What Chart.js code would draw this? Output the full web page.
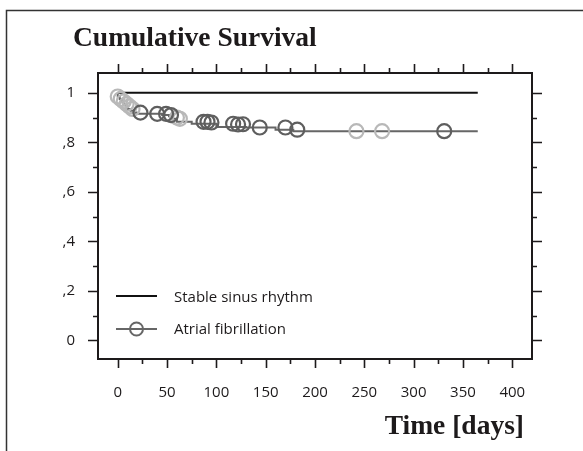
<!DOCTYPE html>
<html>
<head>
<meta charset="utf-8">
<script src="https://cdn.jsdelivr.net/npm/chart.js@4.4.1/dist/chart.umd.min.js"></script>
<style>
  html, body { margin: 0; padding: 0; background: #fff; }
  #wrap { width: 583px; height: 451px; }
</style>
</head>
<body>
<div id="wrap"><canvas id="chart" width="583" height="451"></canvas></div>
<script>
// Kaplan-Meier style survival plot

// --- Data ---
const sinusTimes = [0, 365];
const sinusSurvival = [1, 1];

// atrial fibrillation step curve
const afTimes = [0, 2, 4, 6, 8, 10, 13, 16, 19, 45, 52, 56, 60, 75, 100, 130, 160, 178, 235, 365];
const afSurvival = [1, 0.985, 0.975, 0.965, 0.955, 0.945, 0.935, 0.928, 0.92, 0.915, 0.91, 0.905, 0.895, 0.883, 0.875, 0.862, 0.86, 0.851, 0.845, 0.845];

// censor marks (dark)
const censorDarkTimes = [23, 40, 49, 54, 87, 91, 95, 117, 122, 127, 144, 170, 182, 331];
const censorDarkValues = [0.92, 0.915, 0.915, 0.91, 0.883, 0.883, 0.88, 0.875, 0.872, 0.873, 0.86, 0.86, 0.851, 0.845];

// censor marks (light)
const censorLightTimes = [0, 3, 6, 9, 12, 15, 60, 63, 242, 268];
const censorLightValues = [0.985, 0.975, 0.965, 0.955, 0.945, 0.935, 0.9, 0.895, 0.845, 0.845];

const xMajorTicks = [0, 50, 100, 150, 200, 250, 300, 350, 400];
const xMinorTicks = [25, 75, 125, 175, 225, 275, 325, 375];
const yMajorTicks = [0, 0.2, 0.4, 0.6, 0.8, 1];
const yMinorTicks = [0.1, 0.3, 0.5, 0.7, 0.9];
const yTickLabels = ['0', ',2', ',4', ',6', ',8', '1'];

const titleText = 'Cumulative Survival';
const xTitleText = 'Time [days]';
const legendLabels = ['Stable sinus rhythm', 'Atrial fibrillation'];

// --- Helpers ---
const toPoints = (xs, ys) => xs.map((x, i) => ({ x, y: ys[i] }));

const INK = '#1d1a1b';
const AF_GREY = '#666666';

// draws frame, plot box, tick marks, titles and legend
const decorations = {
  id: 'decorations',
  afterDraw(chart) {
    const { ctx, chartArea: a, scales } = chart;
    const xs = scales.x, ys = scales.y;
    ctx.save();

    // outer frame (only top and left visible)
    ctx.strokeStyle = '#333';
    ctx.lineWidth = 1.5;
    ctx.beginPath();
    ctx.moveTo(6.5, 451);
    ctx.lineTo(6.5, 10.5);
    ctx.lineTo(583, 10.5);
    ctx.stroke();

    // plot box
    ctx.strokeStyle = INK;
    ctx.lineWidth = 2;
    ctx.strokeRect(a.left, a.top, a.right - a.left, a.bottom - a.top);

    // ticks
    ctx.lineWidth = 1.6;
    ctx.beginPath();
    const tickX = (vals, len) => vals.forEach(v => {
      const px = Math.round(xs.getPixelForValue(v)) + 0.5;
      ctx.moveTo(px, a.bottom); ctx.lineTo(px, a.bottom + len);
      ctx.moveTo(px, a.top); ctx.lineTo(px, a.top - len);
    });
    const tickY = (vals, len) => vals.forEach(v => {
      const py = Math.round(ys.getPixelForValue(v)) + 0.5;
      ctx.moveTo(a.left, py); ctx.lineTo(a.left - len, py);
      ctx.moveTo(a.right, py); ctx.lineTo(a.right + len, py);
    });
    tickX(xMajorTicks, 9);
    tickX(xMinorTicks, 5);
    tickY(yMajorTicks, 10);
    tickY(yMinorTicks, 5);
    ctx.stroke();

    // titles
    ctx.fillStyle = INK;
    ctx.font = 'bold 27.5px "Liberation Serif", "Times New Roman", serif';
    ctx.textBaseline = 'alphabetic';
    ctx.textAlign = 'left';
    ctx.fillText(titleText, 73, 46);
    ctx.textAlign = 'right';
    ctx.fillText(xTitleText, 524, 434);

    // legend
    ctx.textAlign = 'left';
    ctx.textBaseline = 'middle';
    ctx.font = '15px "Open Sans", sans-serif';
    ctx.lineWidth = 2;
    ctx.strokeStyle = '#111';
    ctx.beginPath();
    ctx.moveTo(116, 296); ctx.lineTo(157, 296);
    ctx.stroke();
    ctx.fillText(legendLabels[0], 174, 298);

    ctx.strokeStyle = AF_GREY;
    ctx.beginPath();
    ctx.moveTo(116, 329); ctx.lineTo(157, 329);
    ctx.stroke();
    ctx.beginPath();
    ctx.arc(136.5, 329, 6.5, 0, Math.PI * 2);
    ctx.stroke();
    ctx.fillText(legendLabels[1], 174, 330);

    ctx.restore();
  }
};

new Chart(document.getElementById('chart').getContext('2d'), {
  type: 'line',
  data: {
    datasets: [
      {
        label: 'censorDark',
        type: 'scatter',
        data: toPoints(censorDarkTimes, censorDarkValues),
        showLine: false,
        pointStyle: 'circle',
        pointRadius: 7,
        pointBorderWidth: 2.2,
        pointBorderColor: '#5e5e5e',
        pointBackgroundColor: 'rgba(0,0,0,0)',
        order: 1
      },
      {
        label: 'censorLight',
        type: 'scatter',
        data: toPoints(censorLightTimes, censorLightValues),
        showLine: false,
        pointStyle: 'circle',
        pointRadius: 7,
        pointBorderWidth: 2.2,
        pointBorderColor: '#b8b8b8',
        pointBackgroundColor: 'rgba(0,0,0,0)',
        order: 2
      },
      {
        label: legendLabels[1],
        data: toPoints(afTimes, afSurvival),
        stepped: 'after',
        borderColor: AF_GREY,
        borderWidth: 2,
        pointRadius: 0,
        fill: false,
        order: 3
      },
      {
        label: legendLabels[0],
        data: toPoints(sinusTimes, sinusSurvival),
        borderColor: '#111',
        borderWidth: 2,
        pointRadius: 0,
        fill: false,
        order: 4
      }
    ]
  },
  options: {
    responsive: false,
    animation: false,
    layout: { padding: { left: 0, top: 73, right: 51, bottom: 0 } },
    plugins: {
      legend: { display: false },
      title: { display: false },
      tooltip: { enabled: false }
    },
    scales: {
      x: {
        type: 'linear',
        min: -20,
        max: 420,
        afterFit: s => { s.height = 92; },
        afterBuildTicks: s => { s.ticks = xMajorTicks.map(v => ({ value: v })); },
        grid: { display: false, drawTicks: false },
        border: { display: false },
        ticks: {
          padding: 25,
          color: INK,
          maxRotation: 0,
          font: { family: '"Open Sans", sans-serif', size: 15 },
          callback: v => String(v)
        }
      },
      y: {
        type: 'linear',
        min: -0.075,
        max: 1.08,
        afterFit: s => { s.width = 98; },
        afterBuildTicks: s => { s.ticks = yMajorTicks.map(v => ({ value: v })); },
        grid: { display: false, drawTicks: false },
        border: { display: false },
        ticks: {
          padding: 23,
          color: INK,
          font: { family: '"Open Sans", sans-serif', size: 15 },
          callback: (v) => {
            const i = yMajorTicks.findIndex(t => Math.abs(t - v) < 1e-6);
            return i >= 0 ? yTickLabels[i] : '';
          }
        }
      }
    }
  },
  plugins: [decorations]
});
</script>
</body>
</html>
